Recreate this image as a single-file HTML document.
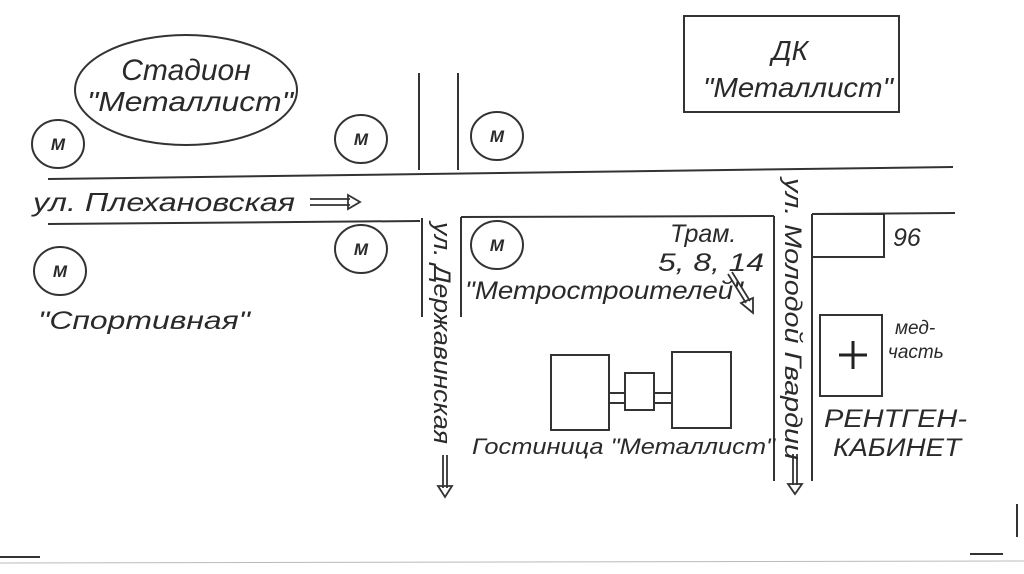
<!DOCTYPE html>
<html><head><meta charset="utf-8"><style>
html,body{margin:0;padding:0;background:#fff;}
svg{display:block;}
text{font-family:"Liberation Sans","DejaVu Sans",sans-serif;font-style:italic;fill:#2a2a2a;}
</style></head><body>
<svg width="1024" height="574" viewBox="0 0 1024 574" xmlns="http://www.w3.org/2000/svg">
<rect width="1024" height="574" fill="#fff"/>
<g stroke="#333" stroke-width="2" fill="none">
<ellipse cx="186" cy="90" rx="111" ry="55"/>
<ellipse cx="58" cy="144" rx="26" ry="24"/>
<ellipse cx="361" cy="139" rx="26" ry="24"/>
<ellipse cx="497" cy="136" rx="26" ry="24"/>
<ellipse cx="361" cy="249" rx="26" ry="24"/>
<ellipse cx="497" cy="245" rx="26" ry="24"/>
<ellipse cx="60" cy="271" rx="26" ry="24"/>
<line x1="419" y1="73" x2="419" y2="170"/>
<line x1="458" y1="73" x2="458" y2="170"/>
<line x1="48" y1="179" x2="953" y2="167"/>
<line x1="48" y1="224" x2="420" y2="221"/>
<line x1="461" y1="217" x2="774" y2="216"/>
<line x1="812" y1="214" x2="955" y2="213"/>
<line x1="422" y1="218" x2="422" y2="317"/>
<line x1="461" y1="217" x2="461" y2="317"/>
<line x1="774" y1="216" x2="774" y2="481"/>
<line x1="812" y1="214" x2="812" y2="481"/>
<rect x="684" y="16" width="215" height="96"/>
<polyline points="812,214 884,214 884,257 812,257"/>
<rect x="820" y="315" width="62" height="81"/>
<rect x="551" y="355" width="58" height="75"/>
<rect x="625" y="373" width="29" height="37"/>
<rect x="672" y="352" width="59" height="76"/>
<line x1="609" y1="393" x2="625" y2="393"/><line x1="609" y1="403" x2="625" y2="403"/>
<line x1="654" y1="393" x2="672" y2="393"/><line x1="654" y1="403" x2="672" y2="403"/>
<line x1="1017" y1="504" x2="1017" y2="537"/>
<line x1="970" y1="554" x2="1003" y2="554"/>
<line x1="0" y1="557" x2="40" y2="557"/>
</g>
<line x1="0" y1="563" x2="1024" y2="561" stroke="#bbb" stroke-width="1"/>
<g stroke="#222" stroke-width="3">
<line x1="839" y1="355" x2="867" y2="355"/><line x1="853" y1="341" x2="853" y2="369"/>
</g>
<g stroke="#333" stroke-width="1.8" fill="#fff">
<path d="M310 199 H350 M310 205 H350 M348 195 L360 202 L348 209 Z"/>
<path d="M443 455 V488 M447 455 V488 M438 486 L445 497 L452 486 Z"/>
<path d="M793 454 V485 M797 454 V485 M788 484 L795 494 L802 484 Z"/>
<path d="M728 274 L746 303 M732 272 L750 301 M741 303 L753 313 L753 298 Z"/>
</g>
<g font-size="28">
<text x="186" y="80" text-anchor="middle" font-size="30">Стадион</text>
<text x="87" y="111" textLength="206" lengthAdjust="spacingAndGlyphs">"Металлист"</text>
<text x="790" y="60" text-anchor="middle">ДК</text>
<text x="703" y="97" textLength="190" lengthAdjust="spacingAndGlyphs">"Металлист"</text>
</g>
<g font-size="17" font-weight="bold" text-anchor="middle">
<text x="58" y="150">М</text><text x="361" y="145">М</text><text x="497" y="142">М</text>
<text x="361" y="255">М</text><text x="497" y="251">М</text><text x="60" y="277">М</text>
</g>
<text x="33" y="211" font-size="26" textLength="262" lengthAdjust="spacingAndGlyphs">ул. Плехановская</text>
<text x="38" y="329" font-size="25" textLength="212" lengthAdjust="spacingAndGlyphs">"Спортивная"</text>
<text x="670" y="242" font-size="25">Трам.</text>
<text x="658" y="271" font-size="25" textLength="106" lengthAdjust="spacingAndGlyphs">5, 8, 14</text>
<text x="465" y="299" font-size="25" textLength="278" lengthAdjust="spacingAndGlyphs">"Метростроителей"</text>
<text x="472" y="454" font-size="22" textLength="303" lengthAdjust="spacingAndGlyphs">Гостиница "Металлист"</text>
<text x="893" y="246" font-size="25">96</text>
<text x="895" y="334" font-size="19">мед-</text>
<text x="888" y="358" font-size="19">часть</text>
<text x="824" y="427" font-size="25" textLength="143" lengthAdjust="spacingAndGlyphs">РЕНТГЕН-</text>
<text x="833" y="456" font-size="25" textLength="128" lengthAdjust="spacingAndGlyphs">КАБИНЕТ</text>
<text transform="translate(434,222) rotate(90)" font-size="24" textLength="222" lengthAdjust="spacingAndGlyphs">ул. Державинская</text>
<text transform="translate(785,178) rotate(90)" font-size="24" textLength="282" lengthAdjust="spacingAndGlyphs">ул. Молодой Гвардии</text>
</svg>
</body></html>
